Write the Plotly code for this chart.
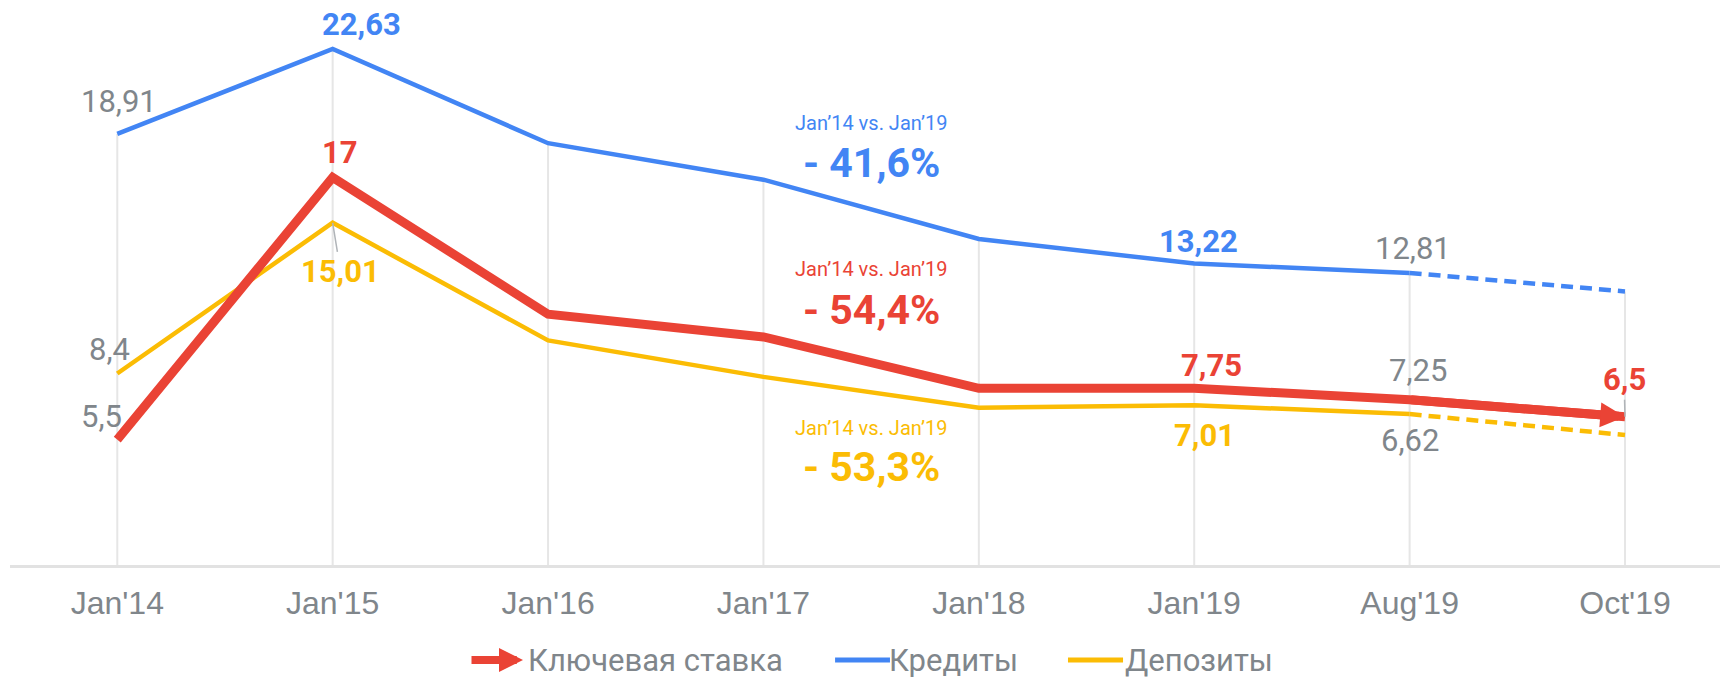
import plotly.graph_objects as go

# ---------------- data ----------------
categories = ["Jan'14", "Jan'15", "Jan'16", "Jan'17", "Jan'18", "Jan'19", "Aug'19", "Oct'19"]
key_rate = [5.5, 17, 11.0, 10.0, 7.75, 7.75, 7.25, 6.5]
credits = [18.91, 22.63, 18.5, 16.9, 14.3, 13.22, 12.81, 12.0]
deposits = [8.4, 15.01, 9.85, 8.25, 6.9, 7.01, 6.62, 5.7]

series_names = ["Ключевая ставка", "Кредиты", "Депозиты"]

key_rate_labels = {0: "5,5", 1: "17", 5: "7,75", 6: "7,25", 7: "6,5"}
credits_labels = {0: "18,91", 1: "22,63", 5: "13,22", 6: "12,81"}
deposits_labels = {0: "8,4", 1: "15,01", 5: "7,01", 6: "6,62"}

change_period = "Jan’14 vs. Jan’19"
change_values = ["- 41,6%", "- 54,4%", "- 53,3%"]  # credits, key rate, deposits

# ---------------- styles ----------------
RED = "#EA4335"
BLUE = "#4285F4"
YELLOW = "#FBBC04"
GREY = "#80868B"
GRID = "#E6E6E6"
FONT = "Roboto"

# label offsets (px) relative to the point, highlight flag, leader line flag
key_rate_style = {0: (-16, -23, False, False), 1: (7, -25, True, False), 5: (17, -23, True, False),
                  6: (8, -29, False, False), 7: (-1, -37, True, True)}
credits_style = {0: (2, -32, False, False), 1: (29, -25, True, False), 5: (4, -22, True, False),
                 6: (3, -24, False, False)}
deposits_style = {0: (-8, -24, False, False), 1: (8, 49, True, True), 5: (10, 30, True, False),
                  6: (0, 26, False, False)}

fig = go.Figure()

# drop lines from the credits line to the baseline
gx, gy = [], []
for c, v in zip(categories, credits):
    gx += [c, c, None]
    gy += [0, v, None]
fig.add_trace(go.Scatter(x=gx, y=gy, mode="lines", line=dict(color=GRID, width=2),
                         hoverinfo="skip", showlegend=False))

last = len(categories) - 1


def solid_dashed(values):
    solid = values[:last] + [None]
    dashed = [None] * (last - 1) + values[last - 1:]
    return solid, dashed


for vals, color, width, name in [(deposits, YELLOW, 4.5, series_names[2]),
                                 (credits, BLUE, 4.5, series_names[1])]:
    solid, dashed = solid_dashed(vals)
    fig.add_trace(go.Scatter(x=categories, y=solid, mode="lines", name=name,
                             line=dict(color=color, width=width), showlegend=False))
    fig.add_trace(go.Scatter(x=categories, y=dashed, mode="lines", name=name,
                             line=dict(color=color, width=width, dash="12px,7px"),
                             showlegend=False))

fig.add_trace(go.Scatter(x=categories, y=key_rate, mode="lines", name=series_names[0],
                         line=dict(color=RED, width=9), showlegend=False))

annotations = []

# arrow head at the end of the key rate line
annotations.append(dict(x=last, y=key_rate[last], xref="x", yref="y",
                        ax=last - 1, ay=key_rate[last - 1], axref="x", ayref="y",
                        showarrow=True, arrowhead=2, arrowwidth=9, arrowsize=0.55,
                        arrowcolor=RED, text=""))

# data labels
for vals, labels, styles, color in [(key_rate, key_rate_labels, key_rate_style, RED),
                                    (credits, credits_labels, credits_style, BLUE),
                                    (deposits, deposits_labels, deposits_style, YELLOW)]:
    for i, txt in labels.items():
        dx, dy, hi, leader = styles[i]
        annotations.append(dict(
            x=i, y=vals[i], xref="x", yref="y", text=txt,
            showarrow=True, ax=dx, ay=dy, axref="pixel", ayref="pixel",
            arrowhead=0, arrowwidth=1.5,
            arrowcolor="#B0B4B8" if leader else "rgba(0,0,0,0)",
            font=dict(family=FONT, size=31, color=color if hi else GREY,
                      weight="bold" if hi else "normal"),
        ))

# change annotations
change_colors = [BLUE, RED, YELLOW]
change_sub_y = [19.4, 13.0, 6.03]
change_big_y = [17.65, 11.2, 4.31]
for val, col, ys, yb in zip(change_values, change_colors, change_sub_y, change_big_y):
    annotations.append(dict(x=3.5, y=ys, xref="x", yref="y", text=change_period, showarrow=False,
                            font=dict(family=FONT, size=20, color=col)))
    annotations.append(dict(x=3.5, y=yb, xref="x", yref="y", text=val, showarrow=False,
                            font=dict(family=FONT, size=41, color=col, weight="bold")))

# custom legend
LEG_Y = -0.1682
annotations.append(dict(x=0.300, y=LEG_Y, xref="paper", yref="paper", ax=-53, ay=0,
                        axref="pixel", ayref="pixel", showarrow=True, arrowhead=2,
                        arrowwidth=8, arrowsize=0.6, arrowcolor=RED, text=""))
legend_text_x = [0.3023, 0.5135, 0.6515]
for name, lx in zip(series_names, legend_text_x):
    annotations.append(dict(x=lx, y=LEG_Y, xref="paper", yref="paper", text=name,
                            xanchor="left", yanchor="middle", showarrow=False, borderpad=0,
                            font=dict(family=FONT, size=31, color=GREY)))

shapes = [
    dict(type="line", xref="paper", yref="paper", x0=0.4825, x1=0.5146, y0=LEG_Y, y1=LEG_Y,
         line=dict(color=BLUE, width=5)),
    dict(type="line", xref="paper", yref="paper", x0=0.6187, x1=0.6509, y0=LEG_Y, y1=LEG_Y,
         line=dict(color=YELLOW, width=5)),
]

fig.update_layout(
    width=1720, height=679,
    margin=dict(l=10, r=0, t=0, b=114),
    plot_bgcolor="white", paper_bgcolor="white",
    showlegend=False,
    annotations=annotations,
    shapes=shapes,
    xaxis=dict(type="category", categoryorder="array", categoryarray=categories,
               range=[-0.498, 7.441], showgrid=False, zeroline=False,
               showline=True, linecolor="#E2E2E2", linewidth=3, ticks="",
               ticklabelstandoff=8,
               tickfont=dict(family="Liberation Sans, Arial", size=32, color=GREY)),
    yaxis=dict(range=[0, 24.78], visible=False),
)

fig.write_html("out.html", config={"displayModeBar": False},
               post_script="document.body.style.margin='0';document.body.style.overflow='hidden';")
